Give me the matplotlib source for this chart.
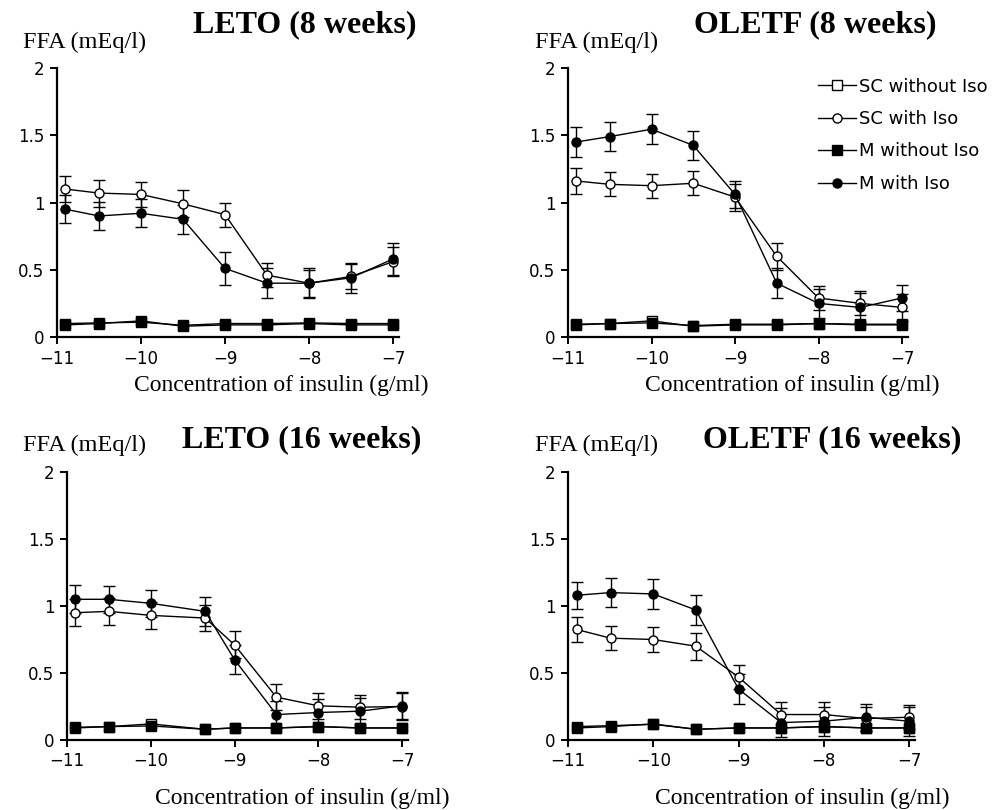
import matplotlib.pyplot as plt
from matplotlib.lines import Line2D

plt.rcParams['font.family'] = ['DejaVu Sans']

# insulin concentration (log g/ml)
x_std = [-10.9, -10.5, -10.0, -9.5, -9.0, -8.5, -8.0, -7.5, -7.0]
x_leto16 = [-10.9, -10.5, -10.0, -9.35, -9.0, -8.5, -8.0, -7.5, -7.0]

titles = ['LETO (8 weeks)', 'OLETF (8 weeks)', 'LETO (16 weeks)', 'OLETF (16 weeks)']
series_names = ['SC without Iso', 'SC with Iso', 'M without Iso', 'M with Iso']

# LETO 8 weeks
leto8_sc_wo = [0.09, 0.10, 0.12, 0.08, 0.09, 0.09, 0.10, 0.09, 0.09]
leto8_sc_w = [1.10, 1.07, 1.06, 0.99, 0.91, 0.46, 0.40, 0.45, 0.56]
leto8_m_wo = [0.10, 0.105, 0.11, 0.087, 0.10, 0.10, 0.105, 0.10, 0.10]
leto8_m_w = [0.95, 0.90, 0.92, 0.875, 0.51, 0.40, 0.40, 0.44, 0.58]
leto8_sc_w_err = [0.095, 0.10, 0.09, 0.10, 0.09, 0.09, 0.11, 0.09, 0.11]
leto8_m_w_err = [0.105, 0.105, 0.105, 0.11, 0.12, 0.11, 0.10, 0.11, 0.12]

# OLETF 8 weeks
oletf8_sc_wo = [0.09, 0.10, 0.12, 0.08, 0.09, 0.09, 0.10, 0.09, 0.09]
oletf8_sc_w = [1.16, 1.135, 1.125, 1.143, 1.04, 0.60, 0.29, 0.25, 0.22]
oletf8_m_wo = [0.095, 0.10, 0.105, 0.085, 0.095, 0.095, 0.10, 0.095, 0.095]
oletf8_m_w = [1.45, 1.49, 1.545, 1.425, 1.06, 0.40, 0.25, 0.22, 0.29]
oletf8_sc_w_err = [0.095, 0.09, 0.09, 0.09, 0.10, 0.10, 0.09, 0.09, 0.10]
oletf8_m_w_err = [0.11, 0.11, 0.11, 0.11, 0.10, 0.11, 0.11, 0.11, 0.10]

# LETO 16 weeks
leto16_sc_wo = [0.09, 0.10, 0.12, 0.08, 0.09, 0.09, 0.10, 0.09, 0.09]
leto16_sc_w = [0.95, 0.96, 0.93, 0.91, 0.71, 0.32, 0.255, 0.245, 0.25]
leto16_m_wo = [0.095, 0.10, 0.105, 0.08, 0.09, 0.09, 0.10, 0.09, 0.09]
leto16_m_w = [1.05, 1.05, 1.02, 0.96, 0.60, 0.19, 0.205, 0.215, 0.255]
leto16_sc_w_err = [0.10, 0.10, 0.10, 0.095, 0.10, 0.095, 0.095, 0.09, 0.10]
leto16_m_w_err = [0.105, 0.10, 0.10, 0.11, 0.11, 0.10, 0.10, 0.10, 0.10]

# OLETF 16 weeks
oletf16_sc_wo = [0.09, 0.10, 0.12, 0.08, 0.09, 0.09, 0.10, 0.09, 0.09]
oletf16_sc_w = [0.825, 0.76, 0.75, 0.70, 0.47, 0.19, 0.19, 0.16, 0.17]
oletf16_m_wo = [0.10, 0.107, 0.117, 0.08, 0.09, 0.09, 0.10, 0.09, 0.09]
oletf16_m_w = [1.08, 1.10, 1.09, 0.97, 0.38, 0.13, 0.14, 0.17, 0.14]
oletf16_sc_w_err = [0.09, 0.09, 0.09, 0.10, 0.09, 0.09, 0.09, 0.09, 0.09]
oletf16_m_w_err = [0.10, 0.11, 0.11, 0.11, 0.11, 0.11, 0.11, 0.10, 0.11]

panels = [
    (x_std, leto8_sc_wo, leto8_sc_w, leto8_m_wo, leto8_m_w, leto8_sc_w_err, leto8_m_w_err),
    (x_std, oletf8_sc_wo, oletf8_sc_w, oletf8_m_wo, oletf8_m_w, oletf8_sc_w_err, oletf8_m_w_err),
    (x_leto16, leto16_sc_wo, leto16_sc_w, leto16_m_wo, leto16_m_w, leto16_sc_w_err, leto16_m_w_err),
    (x_std, oletf16_sc_wo, oletf16_sc_w, oletf16_m_wo, oletf16_m_w, oletf16_sc_w_err, oletf16_m_w_err),
]

W, H = 1005, 810
fig = plt.figure(figsize=(W / 100, H / 100), dpi=100)

# axes rectangles in pixels: left, top(y=2), right(x=-7), bottom(y=0)
boxes = [(57, 68, 393, 337), (568, 68, 902, 337), (67, 472, 402, 740), (568, 472, 909, 740)]
# text anchors in pixels: FFA left/centre-y, title centre, x label centre
ffa_pos = [(23, 42), (535, 42), (23, 445), (535, 445)]
title_pos = [(305, 25), (815, 25), (302, 440), (832, 440)]
xlab_pos = [(281, 385), (792, 385), (302, 798), (802, 798)]


def ftext(px, py, s, **kw):
    fig.text(px / W, 1 - py / H, s, **kw)


for i, (box, data) in enumerate(zip(boxes, panels)):
    l, t, r, b = box
    x, sc_wo, sc_w, m_wo, m_w, sc_err, m_err = data
    ax = fig.add_axes([l / W, (H - b) / H, (r - l) / W, (b - t) / H])
    ax.set_xlim(-11, -7)
    ax.set_ylim(0, 2)

    lw = 1.0
    ax.plot(x, sc_wo, marker='s', color='black', mfc='white', ms=6.5, lw=lw, clip_on=False)
    ax.errorbar(x, sc_w, yerr=sc_err, marker='o', color='black', mfc='white', ms=6.5, lw=lw,
                elinewidth=1.0, capsize=4, clip_on=False)
    ax.plot(x, m_wo, marker='s', color='black', mfc='black', ms=6.5, lw=lw, clip_on=False)
    ax.errorbar(x, m_w, yerr=m_err, marker='o', color='black', mfc='black', ms=6.5, lw=lw,
                elinewidth=1.0, capsize=4, clip_on=False)

    for s in ['top', 'right']:
        ax.spines[s].set_visible(False)
    ax.spines['left'].set_linewidth(1.6)
    ax.spines['bottom'].set_linewidth(1.6)
    ax.spines['bottom'].set_bounds(-11, -6.93)
    ax.set_yticks([0, 0.5, 1, 1.5, 2])
    ax.set_yticklabels(['0', '0.5', '1', '1.5', '2'])
    ax.set_xticks([-11, -10, -9, -8, -7])
    ax.set_xticklabels(['\u221211', '\u221210', '\u22129', '\u22128', '\u22127'])
    ax.tick_params(direction='out', length=5, width=1.4, labelsize=12, pad=4)

    ftext(*ffa_pos[i], 'FFA (mEq/l)', family='Liberation Serif', fontsize=17.5, ha='left', va='center')
    ftext(*title_pos[i], titles[i], family='Liberation Serif', fontsize=23, fontweight='bold',
          ha='center', va='center')
    ftext(*xlab_pos[i], 'Concentration of insulin (g/ml)', family='Liberation Serif', fontsize=17,
          ha='center', va='center')

    if i == 1:
        handles = [
            Line2D([], [], marker='s', color='black', mfc='white', ms=6.5, lw=1),
            Line2D([], [], marker='o', color='black', mfc='white', ms=6.5, lw=1),
            Line2D([], [], marker='s', color='black', mfc='black', ms=6.5, lw=1),
            Line2D([], [], marker='o', color='black', mfc='black', ms=6.5, lw=1),
        ]
        ax.legend(handles, series_names, loc='upper left', bbox_to_anchor=(0.70, 1.025), frameon=False,
                  fontsize=13, handlelength=2.1, handletextpad=0.15, labelspacing=0.8)

fig.savefig('out.png', dpi=100)
